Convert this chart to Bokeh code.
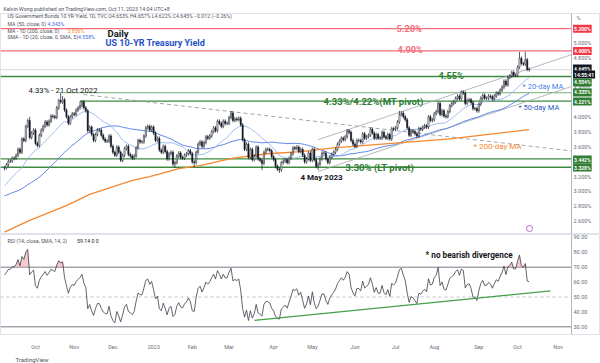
import numpy as np
import pandas as pd
from pandas.tseries.holiday import USFederalHolidayCalendar
from pandas.tseries.offsets import CustomBusinessDay
from bokeh.plotting import figure
from bokeh.layouts import column
from bokeh.models import Range1d, FixedTicker, Label, Span, ColumnDataSource, Title
from bokeh.core.properties import value
from bokeh.embed import file_html
from bokeh.resources import INLINE

FONT = "Roboto"

# ---------------- data (US 10Y yield, daily closes, %) ----------------
warmup_closes = [3.20, 3.20, 3.09, 2.98,
                 2.88, 2.81, 2.93, 3.00, 3.08, 2.99, 2.96, 2.91, 2.96, 2.93, 2.96, 3.03, 3.03, 2.87, 2.77, 2.81, 2.80, 2.78, 2.68, 2.65,
                 2.57, 2.75, 2.71, 2.68, 2.83, 2.76, 2.79, 2.78, 2.89, 2.84, 2.79, 2.81, 2.90, 2.88, 2.98, 3.03, 3.05, 3.11, 3.03, 3.04, 3.11, 3.11, 3.19,
                 3.26, 3.19, 3.35, 3.27, 3.31]
c_2022_09 = [3.32, 3.36, 3.41, 3.41, 3.45, 3.45, 3.49, 3.57, 3.53, 3.71, 3.69, 3.88, 3.96, 3.73, 3.79, 3.83]
c_2022_10 = [3.65, 3.62, 3.76, 3.83, 3.88, 3.94, 3.90, 3.95, 4.02, 4.01, 4.00, 4.13, 4.23, 4.21, 4.24, 4.10, 4.01, 3.92, 4.01, 4.05]
c_2022_11 = [4.04, 4.10, 4.13, 4.16, 4.21, 4.13, 4.09, 3.82, 3.87, 3.77, 3.69, 3.77, 3.83, 3.83, 3.76, 3.71, 3.68, 3.68, 3.75, 3.61]
c_2022_12 = [3.53, 3.49, 3.60, 3.53, 3.42, 3.49, 3.58, 3.61, 3.50, 3.48, 3.45, 3.48, 3.59, 3.69, 3.67, 3.67, 3.75, 3.86, 3.88, 3.83, 3.87]
c_2023_01 = [3.79, 3.69, 3.72, 3.56, 3.53, 3.61, 3.54, 3.44, 3.51, 3.53, 3.37, 3.39, 3.48, 3.52, 3.46, 3.45, 3.49, 3.51, 3.55, 3.51]
c_2023_02 = [3.40, 3.39, 3.53, 3.64, 3.67, 3.61, 3.66, 3.74, 3.72, 3.75, 3.81, 3.86, 3.82, 3.95, 3.92, 3.88, 3.95, 3.92, 3.92]
c_2023_03 = [4.00, 4.06, 3.96, 3.98, 3.97, 3.99, 3.90, 3.70, 3.57, 3.64, 3.46, 3.57, 3.43, 3.48, 3.60, 3.44, 3.42, 3.38, 3.53, 3.57, 3.57, 3.55, 3.47]
c_2023_04 = [3.43, 3.34, 3.30, 3.29, 3.39, 3.41, 3.43, 3.39, 3.45, 3.51, 3.59, 3.58, 3.60, 3.54, 3.57, 3.49, 3.40, 3.44, 3.52, 3.42]
c_2023_05 = [3.57, 3.43, 3.34, 3.37, 3.44, 3.52, 3.52, 3.44, 3.39, 3.46, 3.50, 3.53, 3.57, 3.64, 3.68, 3.72, 3.70, 3.74, 3.82, 3.80, 3.69, 3.64]
c_2023_06 = [3.61, 3.69, 3.69, 3.67, 3.78, 3.72, 3.74, 3.76, 3.84, 3.79, 3.72, 3.77, 3.72, 3.72, 3.80, 3.74, 3.72, 3.77, 3.71, 3.85, 3.84]
c_2023_07 = [3.86, 3.94, 4.04, 4.06, 4.01, 3.97, 3.86, 3.76, 3.82, 3.81, 3.78, 3.75, 3.85, 3.84, 3.87, 3.89, 3.87, 4.01, 3.96, 3.97]
c_2023_08 = [4.05, 4.08, 4.19, 4.04, 4.09, 4.02, 4.01, 4.08, 4.16, 4.19, 4.21, 4.26, 4.29, 4.25, 4.34, 4.33, 4.19, 4.23, 4.24, 4.20, 4.12, 4.12, 4.09]
c_2023_09 = [4.18, 4.26, 4.30, 4.26, 4.26, 4.29, 4.28, 4.25, 4.29, 4.33, 4.32, 4.37, 4.41, 4.49, 4.44, 4.54, 4.56, 4.61, 4.57, 4.57]
c_2023_10 = [4.68, 4.80, 4.73, 4.72, 4.78, 4.65, 4.645]

high_marks = {"2022-09-28": 4.01, "2022-10-21": 4.335, "2022-10-24": 4.29, "2022-11-04": 4.221,
              "2023-03-02": 4.09, "2023-07-06": 4.09, "2023-08-22": 4.37,
              "2023-10-03": 4.885, "2023-10-06": 4.887}
low_marks = {"2022-12-07": 3.40, "2023-01-19": 3.32, "2023-02-02": 3.33, "2023-03-24": 3.29,
             "2023-04-06": 3.25, "2023-05-04": 3.29}

ma200_dates = ["2022-09-09", "2022-09-28", "2022-10-26", "2022-11-14", "2022-12-15", "2022-12-29",
               "2023-01-23", "2023-02-07", "2023-03-03", "2023-03-29", "2023-04-21", "2023-05-16",
               "2023-07-07", "2023-08-11", "2023-10-11"]
ma200_vals = [2.45, 2.61, 2.81, 2.96, 3.15, 3.20, 3.31, 3.35, 3.45, 3.51, 3.54, 3.59, 3.66, 3.71, 3.836]

last_price = 4.645
red_levels = [5.20, 4.90]
green_levels_full = [4.554, 3.442, 3.328]
mt_pivot_hi, mt_pivot_lo = 4.335, 4.221

price_ticks = [2.6, 2.8, 3.0, 3.2, 3.6, 3.8, 4.0, 4.4, 4.8, 5.0]
rsi_ticks = [30, 40, 50, 60, 70, 80, 90]

month_labels = ["Oct", "Nov", "Dec", "2023", "Feb", "Mar", "Apr", "May", "Jun", "Jul", "Aug", "Sep", "Oct", "Nov"]
month_starts = ["2022-10-01", "2022-11-01", "2022-12-01", "2023-01-01", "2023-02-01", "2023-03-01", "2023-04-01",
                "2023-05-01", "2023-06-01", "2023-07-01", "2023-08-01", "2023-09-01", "2023-10-01", "2023-11-01"]

# ---------------- derived ----------------
closes = (c_2022_09 + c_2022_10 + c_2022_11 + c_2022_12 + c_2023_01 + c_2023_02 + c_2023_03 +
          c_2023_04 + c_2023_05 + c_2023_06 + c_2023_07 + c_2023_08 + c_2023_09 + c_2023_10)
bday = CustomBusinessDay(calendar=USFederalHolidayCalendar())
cal = pd.date_range("2022-09-09", "2023-12-29", freq=bday)
n = len(closes)
idx = np.arange(n)


def di(d):
    return int(cal.searchsorted(pd.Timestamp(d)))


allc = np.array(warmup_closes + closes, dtype=float)
opens = allc[len(warmup_closes) - 1:-1]
cl = np.array(closes)
WICK = 0.025
highs = np.maximum(opens, cl) + WICK
lows = np.minimum(opens, cl) - WICK
for d, v in high_marks.items():
    highs[di(d)] = v
for d, v in low_marks.items():
    lows[di(d)] = v

s_all = pd.Series(allc)
sma20 = s_all.rolling(20).mean().values[len(warmup_closes):]
sma50 = s_all.rolling(50).mean().values[len(warmup_closes):]

chg = np.diff(allc)
up = np.maximum(chg, 0)
dn = np.maximum(-chg, 0)


def rma(x, L):
    out = np.full(len(x), np.nan)
    out[L - 1] = x[:L].mean()
    for i in range(L, len(x)):
        out[i] = (out[i - 1] * (L - 1) + x[i]) / L
    return out


ru, rd = rma(up, 14), rma(dn, 14)
rsi = (100 - 100 / (1 + ru / rd))[-n:]

# ---------------- layout ----------------
W = 600
H1, H2 = 234, 129
X0, X1, XR = -2.07, 292.9, 307.85     # left edge, price-scale edge, right edge (bar units)
XT = 293.9                            # price-scale label column
AXC = "#b2b5be"
TXC = "#6a6d78"

p1 = figure(width=W, height=H1, x_range=Range1d(X0, XR), y_range=Range1d(2.4189, 5.4054),
            output_backend="svg", toolbar_location=None, x_axis_location=None, y_axis_location=None,
            min_border=0, min_border_top=13,
            title="Kelvin-Wong published on TradingView.com, Oct 11, 2023 14:04 UTC+8")
p1.title.text_font = FONT
p1.title.text_font_size = "5.3px"
p1.title.text_font_style = "normal"
p1.title.text_color = "#50535e"
p1.title.align = "left"
p1.title.standoff = 3
p1.title.offset = 3
p1.grid.visible = False
p1.outline_line_color = "#e0e3eb"


def seg(p, x0, y0, x1, y1, color, width, dash="solid"):
    p.segment(x0=[x0], y0=[y0], x1=[x1], y1=[y1], line_color=color, line_width=width, line_dash=dash)


# price scale
p1.add_layout(Span(location=X1, dimension="height", line_color=AXC, line_width=1))
p1.text(x=[XT] * len(price_ticks), y=price_ticks, text=[f"{t:.3f}%" for t in price_ticks],
        text_font=value(FONT), text_font_size="5.5px", text_color=TXC, text_baseline="middle")
p1.text(x=[XT + 1.5], y=[5.351], text=["%"], text_font=value(FONT), text_font_size="5.5px",
        text_color=TXC, text_baseline="middle")

# level lines
seg(p1, X0, last_price, X1, last_price, "#c8cad0", 0.8)
for lv in red_levels:
    seg(p1, X0, lv, X1, lv, "#f26d78", 1.3)
seg(p1, di("2022-10-21"), mt_pivot_hi, X1, mt_pivot_hi, "#8fbf8f", 1.3)
seg(p1, di("2022-11-04"), mt_pivot_lo, X1, mt_pivot_lo, "#3d8b40", 1.3)
for lv in green_levels_full:
    seg(p1, X0, lv, X1, lv, "#3d8b40", 1.3)

# trend lines
seg(p1, 40.8, 4.31, X1, 3.548, "#9598a1", 0.9, "4 3")
seg(p1, di("2023-05-04"), 3.70, X1, 4.85, "#a3a6af", 0.8)
seg(p1, di("2023-05-04"), 3.27, X1, 4.42, "#a3a6af", 0.8)

# moving averages
p1.line(idx, sma50, line_color="#5b83e6", line_width=1.0)
p1.line(idx, sma20, line_color="#93b5f3", line_width=0.9)
p1.line([di(d) for d in ma200_dates], ma200_vals, line_color="#f7882f", line_width=1.3)

# candles
src = ColumnDataSource(dict(x=idx, h=highs, l=lows, top=np.maximum(opens, cl), bottom=np.minimum(opens, cl),
                            fill=["#ffffff" if c >= o else "#131722" for o, c in zip(opens, cl)]))
p1.segment("x", "h", "x", "l", source=src, line_color="#131722", line_width=0.7)
p1.vbar(x="x", width=0.62, top="top", bottom="bottom", fill_color="fill", line_color="#131722",
        line_width=0.5, source=src)

# event marker
p1.scatter([271.2], [2.50], size=6, marker="circle", fill_color="white", line_color="#b45bc9", line_width=0.9)


def lab(p, x, y, text, size, color, bold=False, align="left", base="middle"):
    p.add_layout(Label(x=x, y=y, text=text, text_font=FONT, text_font_size=size, text_color=color,
                       text_font_style="bold" if bold else "normal", text_align=align, text_baseline=base))


# legend (top-left)
lab(p1, 1.5, 5.369, "US Government Bonds 10 YR Yield, 1D, TVC   O4.653%  H4.657%  L4.622%  C4.645%  −0.012 (−0.26%)",
    "5.2px", "#50535e")
lab(p1, 1.5, 5.266, "MA (50, close, 0)", "5.2px", "#50535e")
lab(p1, 22.2, 5.266, "4.343%", "5.2px", "#3e6be0")
lab(p1, 1.5, 5.166, "MA - 1D (200, close, 0)", "5.2px", "#50535e")
lab(p1, 32.5, 5.166, "3.836%", "5.2px", "#f7882f")
lab(p1, 1.5, 5.085, "SMA - 1D (20, close, 0, SMA, 5)", "5.2px", "#50535e")
lab(p1, 38.0, 5.085, "4.558%", "5.2px", "#3e6be0")

# chart annotations
lab(p1, 53.2, 5.135, "Daily", "9.5px", "#131722", bold=True)
lab(p1, 52.2, 5.00, "US 10-YR Treasury Yield", "9px", "#1f50c8", bold=True)
lab(p1, 202.5, 5.20, "5.20%", "9.2px", "#f26d78", bold=True)
lab(p1, 203.0, 4.915, "4.90%", "9.2px", "#f26d78", bold=True)
lab(p1, 224.2, 4.568, "4.55%", "9.2px", "#2e7d32", bold=True)
lab(p1, 164.8, 4.216, "4.33%/4.22%(MT pivot)", "9.5px", "#2e7d32", bold=True)
lab(p1, 176.1, 3.324, "3.30% (LT pivot)", "9.5px", "#2e7d32", bold=True)
lab(p1, 152.9, 3.189, "4 May 2023", "8px", "#131722", bold=True)
lab(p1, 12.4, 4.365, "4.33% - 21 Oct 2022", "7.8px", "#131722")
lab(p1, 267.6, 4.419, "* 20-day MA", "7.5px", "#4a80ef")
lab(p1, 265.5, 4.135, "* 50-day MA", "7.5px", "#2f5bc8")
lab(p1, 242.3, 3.608, "* 200-day MA", "8px", "#f7882f")


def box(p, y, text, bg):
    p.add_layout(Label(x=X1, y=y, text=text, x_offset=1.5, text_align="left", text_baseline="middle",
                       text_font=FONT, text_font_size="5px", text_font_style="bold", text_color="white",
                       background_fill_color=bg, padding=1))


box(p1, 5.20, "5.200%", "#f23645")
box(p1, 4.90, "4.900%", "#f23645")
box(p1, 4.662, "4.645%", "#131722")
box(p1, 4.581, "14:55:41", "#131722")
box(p1, 4.473, "4.554%", "#2e7d32")
box(p1, 4.338, "4.335%", "#2e7d32")
box(p1, 4.216, "4.221%", "#2e7d32")
box(p1, 3.432, "3.442%", "#2e7d32")
box(p1, 3.324, "3.328%", "#2e7d32")

# ---------------- RSI pane ----------------
p2 = figure(width=W, height=H2, x_range=p1.x_range, y_range=Range1d(24.84, 91.94),
            output_backend="svg", toolbar_location=None, x_axis_location="below", y_axis_location=None,
            min_border=0, min_border_bottom=25)
p2.grid.visible = False
p2.outline_line_color = "#e0e3eb"

ticks = [di(d) for d in month_starts]
axx = p2.xaxis[0]
axx.ticker = FixedTicker(ticks=ticks)
axx.major_label_overrides = {t: s for t, s in zip(ticks, month_labels)}
axx.major_label_text_font = FONT
axx.major_label_text_font_size = "5.5px"
axx.major_label_text_color = TXC
axx.major_tick_line_color = None
axx.minor_tick_line_color = None
axx.axis_line_color = "#e0e3eb"
axx.major_label_standoff = 3

p2.add_layout(Span(location=X1, dimension="height", line_color=AXC, line_width=1))
p2.text(x=[XT] * len(rsi_ticks), y=rsi_ticks, text=[f"{t:.2f}" for t in rsi_ticks],
        text_font=value(FONT), text_font_size="5.5px", text_color=TXC, text_baseline="middle")

seg(p2, X0, 70, X1, 70, "#787b86", 1)
seg(p2, X0, 30, X1, 30, "#787b86", 1)
seg(p2, X0, 50, X1, 50, "#b2b5be", 0.8, "3 3")
p2.varea(x=idx, y1=np.full(n, 70.0), y2=np.maximum(rsi, 70.0), fill_color="#f4a6b0", fill_alpha=0.6)
p2.line(idx, rsi, line_color="#3a3d46", line_width=0.8)
seg(p2, 129.1, 34.3, di("2023-10-26"), 54.1, "#43a047", 1.2)

lab(p2, 1.5, 87.4, "RSI (14, close, SMA, 14, 2)", "5.2px", "#50535e")
lab(p2, 37.5, 87.4, "59.14  0  0", "5.2px", "#131722")
lab(p2, 217.5, 78.4, "* no bearish divergence", "8.2px", "#131722", bold=True)

p2.add_layout(Title(text="TradingView", text_font=FONT, text_font_size="6px", text_font_style="normal",
                    text_color="#50535e", align="left", offset=15, standoff=2), "below")

layout = column(p1, p2, spacing=0)
open("out.html", "w").write(file_html(layout, INLINE))
